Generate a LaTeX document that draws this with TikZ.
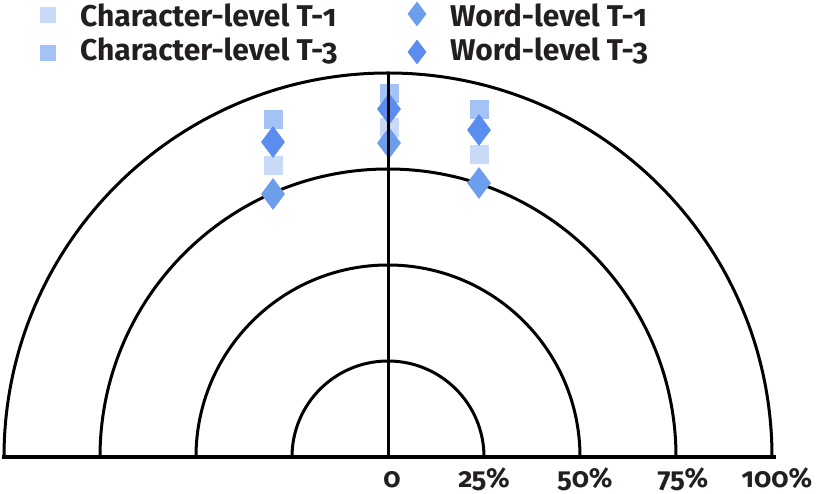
\documentclass[tikz,border=0pt]{standalone}
\usepackage{fontspec}
\setmainfont{Fira Sans}[Numbers=OldStyle]
\usetikzlibrary{shapes.geometric}
\definecolor{charone}{HTML}{C9DAF8}
\definecolor{charthree}{HTML}{A4C2F4}
\definecolor{wordone}{HTML}{6D9EEB}
\definecolor{wordthree}{HTML}{5B8DEF}
\definecolor{ink}{HTML}{231F20}
\begin{document}
\begin{tikzpicture}[x=1pt,y=1pt,
    sq/.style={shape=rectangle,fill=#1,minimum size=19pt,inner sep=0pt},
    dm/.style={shape=diamond,fill=#1,minimum width=24pt,minimum height=32pt,inner sep=0pt},
    lsq/.style={shape=rectangle,fill=#1,minimum size=16pt,inner sep=0pt},
    ldm/.style={shape=diamond,fill=#1,minimum width=19pt,minimum height=25pt,inner sep=0pt},
    lbl/.style={anchor=base west,text=ink,inner sep=0pt,font=\bfseries\fontsize{30}{30}\selectfont},
    tick/.style={anchor=base,text=ink,inner sep=0pt,font=\bfseries\fontsize{27.5}{27.5}\selectfont}]
    \useasboundingbox (0,0) rectangle (829,494);
    \coordinate (o) at (388,37);
    \coordinate (l) at (2,37);
    \coordinate (r) at (776,37);
    \coordinate (t) at (388,421);

    \draw[line width=3pt] (o) ++(-96,0) arc (180:0:96);
    \draw[line width=3pt] (o) ++(-192,0) arc (180:0:192);
    \draw[line width=3pt] (o) ++(-288,0) arc (180:0:288);
    \draw[line width=3pt] (o) ++(-384,0) arc (180:0:384);

    \node[sq=charthree] (ca3) at (273,374) {};
    \node[sq=charone] (ca1) at (273,328) {};
    \node[sq=charthree] (cb3) at (389,400) {};
    \node[sq=charone] (cb1) at (389,366) {};
    \node[sq=charthree] (cc3) at (479,384) {};
    \node[sq=charone] (cc1) at (479,339) {};
    \node[dm=wordthree] (wa3) at (273,352) {};
    \node[dm=wordone] (wa1) at (273,300) {};
    \node[dm=wordthree] (wb3) at (389,385) {};
    \node[dm=wordone] (wb1) at (389,351) {};
    \node[dm=wordthree] (wc3) at (479,364) {};
    \node[dm=wordone] (wc1) at (479,311) {};

    \draw[line width=3pt] (o) -- (t);
    \draw[line width=3.5pt] (l) -- (r);

    \node[lsq=charone] (k1) at (48,479) {};
    \node[lsq=charthree] (k3) at (48,441) {};
    \node[ldm=wordone] (kw1) at (417,480) {};
    \node[ldm=wordthree] (kw3) at (417,442) {};
    \node[lbl] (n1) at (80,467) {Character-level T-1};
    \node[lbl] (n3) at (80,433) {Character-level T-3};
    \node[lbl] (m1) at (450,467) {Word-level T-1};
    \node[lbl] (m3) at (450,433) {Word-level T-3};

    \node[tick] (p0) at (392,6) {0};
    \node[tick] (p25) at (484,6) {25\%};
    \node[tick] (p50) at (585,6) {50\%};
    \node[tick] (p75) at (683,6) {75\%};
    \node[tick] (p100) at (777,6) {100\%};
\end{tikzpicture}
\end{document}
